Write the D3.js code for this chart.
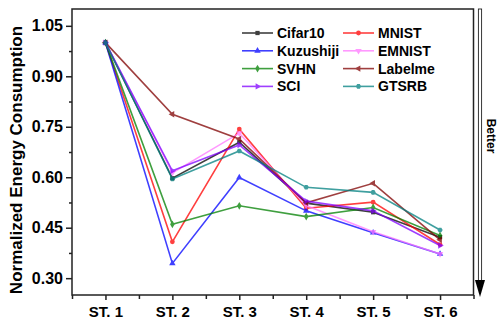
<!DOCTYPE html>
<html>
<head>
<meta charset="utf-8">
<script src="https://cdn.jsdelivr.net/npm/d3@7"></script>
<style>
	body { margin: 0; background: #fff; }
	svg text { font-family: "Liberation Sans", Arial, sans-serif; font-weight: bold; fill: #000; }
</style>
</head>
<body>
<div class="data_display"></div>
<script>
var stages = ["ST. 1", "ST. 2", "ST. 3", "ST. 4", "ST. 5", "ST. 6"];
var yTicks = [0.30, 0.45, 0.60, 0.75, 0.90, 1.05];

var cifar10   = [1.0, 0.597, 0.704, 0.523, 0.496, 0.422];
var mnist     = [1.0, 0.408, 0.743, 0.508, 0.526, 0.400];
var kuzushiji = [1.0, 0.344, 0.599, 0.500, 0.435, 0.372];
var emnist    = [1.0, 0.613, 0.731, 0.516, 0.438, 0.372];
var svhn      = [1.0, 0.460, 0.515, 0.483, 0.510, 0.427];
var labelme   = [1.0, 0.787, 0.714, 0.524, 0.582, 0.414];
var sci       = [1.0, 0.619, 0.696, 0.529, 0.500, 0.397];
var gtsrb     = [1.0, 0.595, 0.678, 0.570, 0.555, 0.443];

var names = ["Cifar10", "MNIST", "Kuzushiji", "EMNIST", "SVHN", "Labelme", "SCI", "GTSRB"];
var values = [cifar10, mnist, kuzushiji, emnist, svhn, labelme, sci, gtsrb];
var colors = ["#000000", "#ff0000", "#0000ff", "#ff77ff", "#008000", "#800000", "#7f00ff", "#008080"];
var markers = ["square", "circle", "up", "down", "diamond", "left", "right", "hex"];

var w = 498, h = 321;
var plotLeft = 72, plotRight = 473.5, plotTop = 9, plotBottom = 295;

var svg = d3.select(".data_display").append("svg")
	.attr("width", w)
	.attr("height", h);

var x = d3.scaleLinear().domain([0.5, 6.5]).range([plotLeft, plotRight]);
var y = d3.scaleLinear().domain([0.25, 1.10]).range([plotBottom, plotTop]);

function markerPath(type, size){
	if(type == "square") return d3.symbol(d3.symbolSquare, size)();
	if(type == "circle") return d3.symbol(d3.symbolCircle, size)();
	if(type == "diamond") return d3.symbol(d3.symbolDiamond, size)();
	if(type == "hex"){
		var r = Math.sqrt(size / 2.6);
		var pts = d3.range(6).map(function(k){
			var a = Math.PI / 3 * k;
			return [r * Math.cos(a), r * Math.sin(a)];
		});
		return d3.line()(pts) + "Z";
	}
	return d3.symbol(d3.symbolTriangle, size)();
}
function markerRotate(type){
	if(type == "down") return 180;
	if(type == "left") return -90;
	if(type == "right") return 90;
	return 0;
}

//frame
svg.append("rect")
	.attr("x", plotLeft).attr("y", plotTop)
	.attr("width", plotRight - plotLeft).attr("height", plotBottom - plotTop)
	.attr("fill", "none")
	.attr("stroke", "#222")
	.attr("stroke-width", 1.5);

//axes
var yAxis = d3.axisLeft(y).tickValues(yTicks).tickFormat(d3.format(".2f")).tickSize(6).tickPadding(3);
var gy = svg.append("g").attr("transform", "translate(" + plotLeft + ",0)").call(yAxis);
gy.select(".domain").remove();
gy.selectAll("line").attr("stroke", "#222").attr("stroke-width", 1.5);
gy.selectAll("text").style("font-size", "16px");

var yMinor = d3.axisLeft(y).tickValues([0.375, 0.525, 0.675, 0.825, 0.975]).tickFormat("").tickSize(3);
var gym = svg.append("g").attr("transform", "translate(" + plotLeft + ",0)").call(yMinor);
gym.select(".domain").remove();
gym.selectAll("line").attr("stroke", "#222").attr("stroke-width", 1.5);

var xAxis = d3.axisBottom(x).tickValues([1, 2, 3, 4, 5, 6]).tickFormat(function(d){ return stages[d - 1]; }).tickSize(5).tickPadding(6);
var gx = svg.append("g").attr("transform", "translate(0," + plotBottom + ")").call(xAxis);
gx.select(".domain").remove();
gx.selectAll("line").attr("stroke", "#222").attr("stroke-width", 1.5);
gx.selectAll("text").style("font-size", "15px");

var xMinor = d3.axisBottom(x).tickValues([0.5, 1.5, 2.5, 3.5, 4.5, 5.5, 6.5]).tickFormat("").tickSize(4);
var gxm = svg.append("g").attr("transform", "translate(0," + plotBottom + ")").call(xMinor);
gxm.select(".domain").remove();
gxm.selectAll("line").attr("stroke", "#222").attr("stroke-width", 1.5);

//y label
svg.append("text")
	.attr("transform", "translate(22," + ((plotTop + plotBottom) / 2 + 8) + ") rotate(-90)")
	.attr("text-anchor", "middle")
	.style("font-size", "17px")
	.text("Normalized Energy Consumption");

//series
var line = d3.line()
	.x(function(d, i){ return x(i + 1); })
	.y(function(d){ return y(d); });

values.forEach(function(vals, s){
	var g = svg.append("g").attr("opacity", 0.75);
	g.append("path")
		.attr("d", line(vals))
		.attr("fill", "none")
		.attr("stroke", colors[s])
		.attr("stroke-width", 1.6);
	g.selectAll("path.mk")
		.data(vals)
		.enter()
		.append("path")
		.attr("class", "mk")
		.attr("d", markerPath(markers[s], 18))
		.attr("transform", function(d, i){
			return "translate(" + x(i + 1) + "," + y(d) + ") rotate(" + markerRotate(markers[s]) + ")";
		})
		.attr("fill", colors[s]);
});

//legend
var legend = svg.append("g");
names.forEach(function(n, s){
	var col = s % 2, row = Math.floor(s / 2);
	var lx = col ? 343 : 242;
	var ly = 33 + row * 17.8;
	var g = legend.append("g").attr("opacity", 0.75);
	g.append("line")
		.attr("x1", lx).attr("x2", lx + 31)
		.attr("y1", ly).attr("y2", ly)
		.attr("stroke", colors[s]).attr("stroke-width", 1.6);
	g.append("path")
		.attr("d", markerPath(markers[s], 18))
		.attr("transform", "translate(" + (lx + 15.5) + "," + ly + ") rotate(" + markerRotate(markers[s]) + ")")
		.attr("fill", colors[s]);
	legend.append("text")
		.attr("x", lx + 35)
		.attr("y", ly + 5)
		.style("font-size", "14px")
		.text(n);
});

//"Better" arrow
var ax = 480;
svg.append("rect")
	.attr("x", ax - 1.6).attr("y", 9)
	.attr("width", 3.2).attr("height", 272)
	.attr("fill", "#fff")
	.attr("stroke", "#222")
	.attr("stroke-width", 0.9);
svg.append("path")
	.attr("d", "M" + (ax - 5) + ",280L" + (ax + 5) + ",280L" + ax + ",297Z")
	.attr("fill", "#000");
svg.append("text")
	.attr("transform", "translate(487,136) rotate(90)")
	.attr("text-anchor", "middle")
	.style("font-size", "12px")
	.text("Better");
</script>
</body>
</html>
